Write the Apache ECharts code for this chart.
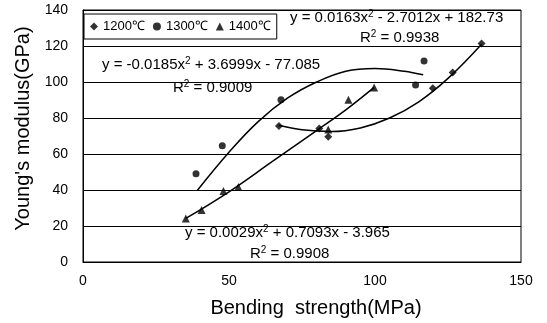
<!DOCTYPE html>
<html>
<head>
<meta charset="utf-8">
<script src="https://cdn.jsdelivr.net/npm/echarts@6/dist/echarts.min.js"></script>
<style>
  html, body { margin: 0; padding: 0; background: #fff; }
  #chart { width: 547px; height: 323px; }
</style>
</head>
<body>
<div id="chart"></div>
<script>
// measured points [bending strength MPa, Young's modulus GPa]
var pts1200 = [[67.1, 75.6], [80.9, 74.1], [84, 69.6], [119.8, 96.5], [126.6, 105.3], [136.5, 121.4]];
var pts1300 = [[38.7, 49], [47.7, 64.6], [67.8, 90.2], [113.9, 98.3], [116.8, 111.7]];
var pts1400 = [[35.2, 24.2], [40.6, 28.9], [48.1, 39.4], [53.2, 41.6], [84, 73.6], [90.9, 90.2], [99.7, 97]];

// trend lines
var trend1200 = [[67, 76], [75, 73.5], [85, 72.5], [95, 74.5], [105, 80], [115, 89], [125, 102], [136.5, 121]];
var trend1300 = [[39.2, 39.9], [50, 61], [60, 78], [70, 91], [80, 100], [90, 106], [100, 107.5], [110, 106], [116.5, 104]];
var trend1400 = [[35.2, 24.2], [50, 39], [65, 56], [80, 73], [90, 84.5], [99.7, 97]];

var xTicks = [0, 50, 100, 150];
var yTicks = [0, 20, 40, 60, 80, 100, 120, 140];

// fit labels: [text, x, y]
var fitLabels = [
  ['y = 0.0163x{s|2} - 2.7012x + 182.73', 290, 18],
  ['R{s|2} = 0.9938', 360, 38],
  ['y = -0.0185x{s|2} + 3.6999x - 77.085', 102, 65],
  ['R{s|2} = 0.9009', 173, 88],
  ['y = 0.0029x{s|2} + 0.7093x - 3.965', 185, 233],
  ['R{s|2} = 0.9908', 250, 254]
];

var font = 'Liberation Sans, Arial, sans-serif';
var myChart = echarts.init(document.getElementById('chart'));

function trendSeries(name, data){
  return {
    name: name, type: 'line', data: data, smooth: 0.4,
    showSymbol: false, silent: true,
    lineStyle: { color: '#000', width: 1.5 },
    z: 2
  };
}
function pointSeries(name, data, symbol, size){
  return {
    name: name, type: 'scatter', data: data,
    symbol: symbol, symbolSize: size,
    itemStyle: { color: '#000' },
    z: 3
  };
}

var graphics = fitLabels.map(function (f) {
  return {
    type: 'text', x: f[1], y: f[2],
    style: {
      text: f[0], fill: '#000',
      fontSize: 15, fontFamily: font,
      align: 'left', verticalAlign: 'middle',
      rich: { s: { fontSize: 10, fontFamily: font, fill: '#000', padding: [0, 0, 8, 0] } }
    }
  };
});

myChart.setOption({
  backgroundColor: '#ffffff',
  animation: false,
  textStyle: { fontFamily: font },
  grid: {
    left: 83, right: 26, top: 10, bottom: 58,
    show: true, borderColor: '#000', borderWidth: 1
  },
  legend: {
    data: ['1200℃', '1300℃', '1400℃'],
    left: 84, top: 14,
    padding: [6, 6, 6, 6],
    itemGap: 8,
    itemWidth: 8, itemHeight: 8,
    borderColor: '#000', borderWidth: 1,
    textStyle: { color: '#000', fontSize: 13, fontFamily: font }
  },
  xAxis: {
    type: 'value', min: xTicks[0], max: xTicks[xTicks.length - 1], interval: 50,
    name: 'Bending  strength(MPa)', nameLocation: 'middle', nameGap: 36,
    nameTextStyle: { color: '#000', fontSize: 20, fontFamily: font, padding: [0, 0, 0, 28] },
    axisLine: { show: true, lineStyle: { color: '#000' } },
    axisTick: { show: false },
    splitLine: { show: false },
    axisLabel: { color: '#000', fontSize: 14, margin: 12 }
  },
  yAxis: {
    type: 'value', min: yTicks[0], max: yTicks[yTicks.length - 1], interval: 20,
    name: "Young's modulus(GPa)", nameLocation: 'middle', nameGap: 50,
    nameTextStyle: { color: '#000', fontSize: 20, fontFamily: font, padding: [0, 0, 0, 15] },
    axisLine: { show: true, lineStyle: { color: '#000' } },
    axisTick: { show: false },
    splitLine: { show: true, lineStyle: { color: '#000', width: 1 } },
    axisLabel: { color: '#000', fontSize: 14, margin: 15 }
  },
  graphic: graphics,
  series: [
    trendSeries('t1200', trend1200),
    trendSeries('t1300', trend1300),
    trendSeries('t1400', trend1400),
    pointSeries('1200℃', pts1200, 'diamond', 8),
    pointSeries('1300℃', pts1300, 'circle', 7),
    pointSeries('1400℃', pts1400, 'triangle', 8)
  ]
});
</script>
</body>
</html>
